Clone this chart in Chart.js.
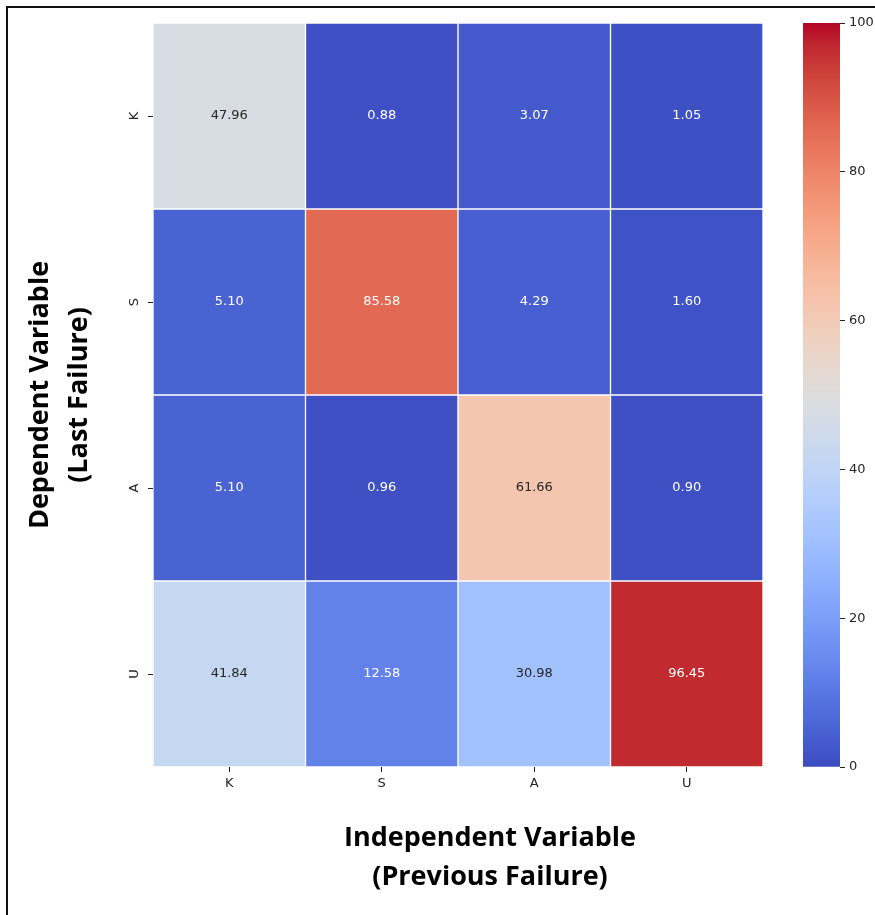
<!DOCTYPE html>
<html>
<head>
<meta charset="utf-8">
<title>Failure transition heatmap</title>
<script src="https://cdn.jsdelivr.net/npm/chart.js@4.4.1/dist/chart.umd.min.js"></script>
<style>
  html, body { margin: 0; padding: 0; background: #ffffff; }
  #wrap { position: relative; width: 875px; height: 915px; overflow: hidden; background: #ffffff; }
  #main { position: absolute; left: 0; top: 0; }
  #cbar { position: absolute; left: 780px; top: 0; }
  #frame {
    position: absolute; left: 6px; top: 6px; width: 900px; height: 950px;
    border-left: 2px solid #111111; border-top: 2px solid #111111;
    box-sizing: border-box; pointer-events: none;
  }
</style>
</head>
<body>
<div id="wrap">
  <canvas id="main" width="875" height="915" style="width:875px;height:915px"></canvas>
  <canvas id="cbar" width="95" height="915" style="width:95px;height:915px"></canvas>
  <div id="frame"></div>
</div>
<script>
// Columns: previous failure; rows: last failure (percentages)
const columnLabels = ['K', 'S', 'A', 'U'];
const rowLabels = ['K', 'S', 'A', 'U'];
const rowK = [47.96, 0.88, 3.07, 1.05];
const rowS = [5.10, 85.58, 4.29, 1.60];
const rowA = [5.10, 0.96, 61.66, 0.90];
const rowU = [41.84, 12.58, 30.98, 96.45];
const colorbarTicks = [0, 20, 40, 60, 80, 100];
const colorMin = 0;
const colorMax = 100;
const xTitleLines = ['Independent Variable', '(Previous Failure)'];
const yTitleLines = ['Dependent Variable', '(Last Failure)'];

// Diverging "coolwarm" colour map (Moreland), 33 evenly spaced stops
const COOLWARM = [
  [59,76,192],[68,90,204],[77,104,215],[87,117,225],[98,130,234],[108,142,241],
  [119,154,247],[130,165,251],[141,176,254],[152,185,255],[163,194,255],[174,201,253],
  [184,208,249],[194,213,244],[204,217,238],[213,219,230],[221,221,221],[229,216,209],
  [236,211,197],[241,204,185],[245,196,173],[247,187,160],[247,177,148],[247,166,135],
  [244,154,123],[241,141,111],[236,127,99],[229,112,88],[222,96,77],[213,80,66],
  [203,62,56],[192,40,47],[180,4,38]
];

function coolwarmRGB(t) {
  t = Math.max(0, Math.min(1, t));
  const pos = t * (COOLWARM.length - 1);
  const i = Math.min(Math.floor(pos), COOLWARM.length - 2);
  const f = pos - i;
  const a = COOLWARM[i], b = COOLWARM[i + 1];
  return [0, 1, 2].map(k => Math.round(a[k] + (b[k] - a[k]) * f));
}
function rgbStr(c) { return 'rgb(' + c[0] + ',' + c[1] + ',' + c[2] + ')'; }
function cellColor(v) { return rgbStr(coolwarmRGB((v - colorMin) / (colorMax - colorMin))); }

// Dark text on light cells, white text on dark cells
function luminance(c) {
  const lin = c.map(x => { x /= 255; return x <= 0.03928 ? x / 12.92 : Math.pow((x + 0.055) / 1.055, 2.4); });
  return 0.2126 * lin[0] + 0.7152 * lin[1] + 0.0722 * lin[2];
}
function textColor(v) {
  return luminance(coolwarmRGB((v - colorMin) / (colorMax - colorMin))) > 0.408 ? '#262626' : '#ffffff';
}

const rows = [rowK, rowS, rowA, rowU];
const TICK_FONT = { family: 'DejaVu Sans', size: 13 };
const TITLE_FONT = { family: 'Open Sans', weight: 'bold', size: 27, lineHeight: 1.45 };
const INK = '#262626';

// Each row is one dataset of floating bars spanning its band on the y scale
const datasets = rows.map((vals, r) => ({
  label: rowLabels[r],
  data: vals.map(() => [r, r + 1]),
  cellValues: vals,
  backgroundColor: vals.map(cellColor),
  borderColor: '#ffffff',
  borderWidth: 1,
  borderSkipped: false,
  barPercentage: 1,
  categoryPercentage: 1,
  grouped: false
}));

// Value annotation in the middle of every cell
const cellLabels = {
  id: 'cellLabels',
  afterDatasetsDraw(chart) {
    const ctx = chart.ctx;
    ctx.save();
    ctx.font = TICK_FONT.size + 'px "' + TICK_FONT.family + '"';
    ctx.textAlign = 'center';
    ctx.textBaseline = 'middle';
    chart.data.datasets.forEach((ds, di) => {
      chart.getDatasetMeta(di).data.forEach((bar, j) => {
        const v = ds.cellValues[j];
        ctx.fillStyle = textColor(v);
        ctx.fillText(v.toFixed(2), bar.x, (bar.y + bar.base) / 2);
      });
    });
    ctx.restore();
  }
};

// Two-line x-axis caption, set a little right of the plot centre
const xCaption = {
  id: 'xCaption',
  afterDraw(chart) {
    const a = chart.chartArea;
    const ctx = chart.ctx;
    const cx = (a.left + a.right) / 2 + 32;
    const lh = TITLE_FONT.size * TITLE_FONT.lineHeight;
    ctx.save();
    ctx.font = 'bold ' + TITLE_FONT.size + 'px "' + TITLE_FONT.family + '"';
    ctx.fillStyle = '#000000';
    ctx.textAlign = 'center';
    ctx.textBaseline = 'middle';
    xTitleLines.forEach((line, i) => ctx.fillText(line, cx, a.bottom + 71 + i * lh));
    ctx.restore();
  }
};

new Chart(document.getElementById('main'), {
  type: 'bar',
  data: { labels: columnLabels, datasets },
  plugins: [cellLabels, xCaption],
  options: {
    responsive: false,
    animation: false,
    layout: { padding: { top: 23, right: 112, bottom: 0, left: 0 } },
    plugins: { legend: { display: false }, tooltip: { enabled: false } },
    scales: {
      x: {
        type: 'category',
        offset: true,
        grid: { display: true, drawOnChartArea: false, offset: false, tickLength: 5, color: INK },
        border: { display: false },
        ticks: { font: TICK_FONT, color: INK, padding: 4 },
        title: { display: false },
        afterFit(s) { s.height = 148; }
      },
      y: {
        type: 'linear',
        min: 0,
        max: rowLabels.length,
        reverse: true,
        afterBuildTicks(s) { s.ticks = rowLabels.map((_, i) => ({ value: i + 0.5 })); },
        ticks: {
          callback: (v, i) => rowLabels[i],
          minRotation: 90, maxRotation: 90,
          crossAlign: 'center',
          autoSkip: false,
          font: TICK_FONT, color: INK, padding: 9
        },
        grid: { drawOnChartArea: false, tickLength: 5, color: INK },
        border: { display: false },
        title: {
          display: true,
          text: yTitleLines,
          font: TITLE_FONT, color: '#000000',
          padding: { top: 21, bottom: 0 }
        },
        afterFit(s) { s.width = 153; }
      }
    }
  }
});

// Colour bar: one bar covering the full value range, filled with the colour map
new Chart(document.getElementById('cbar'), {
  type: 'bar',
  data: {
    labels: [''],
    datasets: [{
      data: [[colorMin, colorMax]],
      backgroundColor(c) {
        const a = c.chart.chartArea;
        if (!a) return '#dddddd';
        const g = c.chart.ctx.createLinearGradient(0, a.bottom, 0, a.top);
        COOLWARM.forEach((col, i) => g.addColorStop(i / (COOLWARM.length - 1), rgbStr(col)));
        return g;
      },
      borderWidth: 0,
      barPercentage: 1,
      categoryPercentage: 1
    }]
  },
  options: {
    responsive: false,
    animation: false,
    layout: { padding: { top: 23, right: 0, bottom: 148, left: 23 } },
    plugins: { legend: { display: false }, tooltip: { enabled: false } },
    scales: {
      x: { display: false },
      y: {
        position: 'right',
        min: colorMin,
        max: colorMax,
        afterBuildTicks(s) { s.ticks = colorbarTicks.map(v => ({ value: v })); },
        ticks: { font: TICK_FONT, color: INK, padding: 4 },
        grid: { drawOnChartArea: false, tickLength: 5, color: INK },
        border: { display: false },
        afterFit(s) { s.width = 35; }
      }
    }
  }
});
</script>
</body>
</html>
